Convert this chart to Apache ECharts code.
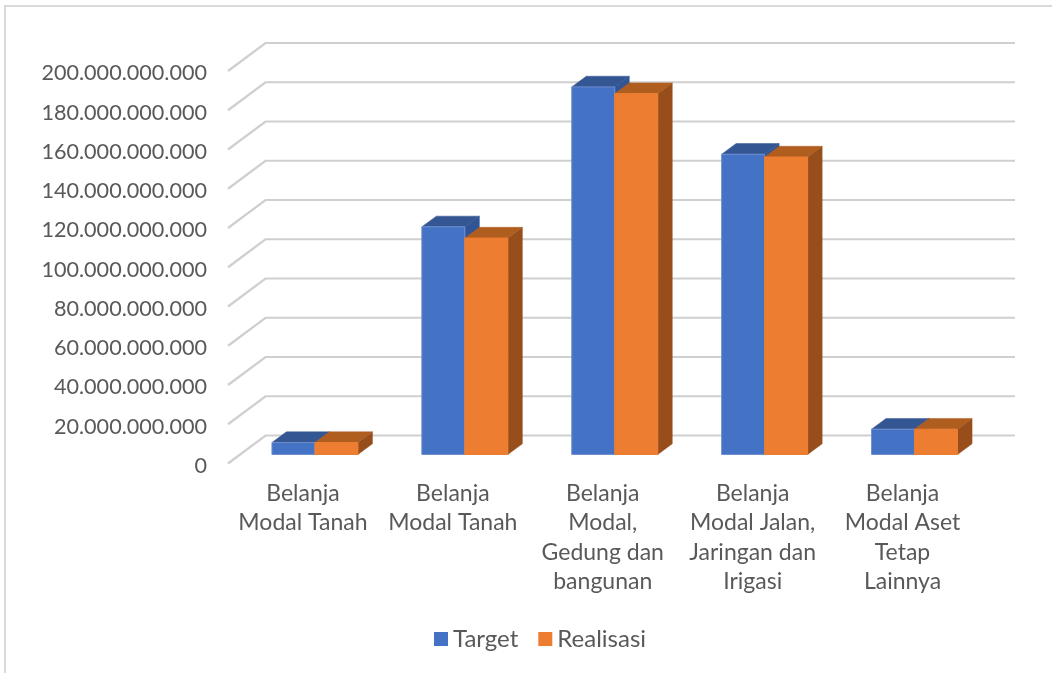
<!DOCTYPE html>
<html><head><meta charset="utf-8">
<style>html,body{margin:0;padding:0;background:#fff}#c{width:1052px;height:673px}</style>
<script src="https://cdn.jsdelivr.net/npm/echarts@6/dist/echarts.min.js"></script>
</head><body><div id="c"></div>
<script>
const categories = ['Belanja\nModal Tanah','Belanja\nModal Tanah','Belanja\nModal,\nGedung dan\nbangunan','Belanja\nModal Jalan,\nJaringan dan\nIrigasi','Belanja\nModal Aset\nTetap\nLainnya'];
const target = [6100000000,116000000000,187300000000,153000000000,12900000000];
const realisasi = [6100000000,110300000000,183900000000,151600000000,12900000000];
const ticks = [0,20e9,40e9,60e9,80e9,100e9,120e9,140e9,160e9,180e9,200e9];
const seriesNames = ['Target','Realisasi'];

const FONT = 'Lato';
const TEXT = '#595959';
const WALL_DX = 37.5, WALL_DY = -28;
const BAR_W = 43, FRONT_DX = 12, FRONT_DY = -9, DEPTH_DX = 14.5, DEPTH_DY = -10.7;

function bar(slot, front, top, side, edge){
  return function(params, api){
    const base = api.coord([api.value(0), 0]);
    const head = api.coord([api.value(0), api.value(1)]);
    const xl = base[0] + FRONT_DX + slot * BAR_W, xr = xl + BAR_W;
    const yb = base[1] + FRONT_DY, yt = head[1] + FRONT_DY;
    const poly = (pts, fill) => ({type:'polygon', shape:{points:pts}, style:{fill, stroke:fill, lineWidth:0.5}});
    return {type:'group', children:[
      poly([[xr,yb],[xr+DEPTH_DX,yb+DEPTH_DY],[xr+DEPTH_DX,yt+DEPTH_DY],[xr,yt]], side),
      poly([[xl,yt],[xl+DEPTH_DX,yt+DEPTH_DY],[xr+DEPTH_DX,yt+DEPTH_DY],[xr,yt]], top),
      {type:'rect', shape:{x:xl,y:yt,width:BAR_W,height:yb-yt}, style:{fill:front, stroke:edge, lineWidth:1}}
    ]};
  };
}
function wall(params, api){
  const p = api.coord([0, api.value(0)]);
  const cs = params.coordSys;
  return {type:'polyline', shape:{points:[[cs.x,p[1]],[cs.x+WALL_DX,p[1]+WALL_DY],[cs.x+cs.width+WALL_DX,p[1]+WALL_DY]]},
    style:{fill:null, stroke:'#cfcfcf', lineWidth:2.2}};
}
const chart = echarts.init(document.getElementById('c'), null, {renderer:'canvas'});
chart.setOption({
  animation:false,
  backgroundColor:'#fff',
  graphic:[{type:'rect', shape:{x:5,y:6,width:1200,height:800}, style:{fill:'none',stroke:'#d9d9d9',lineWidth:2}, z:-1}],
  grid:{left:228, top:71, width:749.5, height:392.5, containLabel:false},
  legend:{data:seriesNames, left:429, top:622, itemWidth:14, itemHeight:14, itemGap:20, icon:'rect',
    textStyle:{fontFamily:FONT, fontSize:24, color:TEXT}},
  xAxis:{type:'category', data:categories, axisLine:{show:false}, axisTick:{show:false}, splitLine:{show:false},
    axisLabel:{fontFamily:FONT, fontSize:23, color:TEXT, lineHeight:29.5, interval:0, margin:15}},
  yAxis:{type:'value', min:0, max:200e9, interval:20e9, axisLine:{show:false}, axisTick:{show:false}, splitLine:{show:false},
    axisLabel:{fontFamily:FONT, fontSize:21.6, color:TEXT, margin:21, verticalAlign:'top', lineHeight:5,
      formatter:v=>String(v).replace(/\B(?=(\d{3})+$)/g,'.')}},
  series:[
    {type:'custom', name:'walls', data:ticks.map(v=>[v]), encode:{y:0}, renderItem:wall, silent:true, z:1},
    {type:'custom', name:seriesNames[0], data:target.map((v,i)=>[i,v]), encode:{x:0,y:1}, itemStyle:{color:'#4472C4'},
      renderItem:bar(-1,'#4472C4','#345692','#2F5597','#6f8fcf'), z:2},
    {type:'custom', name:seriesNames[1], data:realisasi.map((v,i)=>[i,v]), encode:{x:0,y:1}, itemStyle:{color:'#ED7D31'},
      renderItem:bar(0,'#ED7D31','#B05D20','#974E1B','#ED7D31'), z:3}
  ]
});
</script></body></html>
